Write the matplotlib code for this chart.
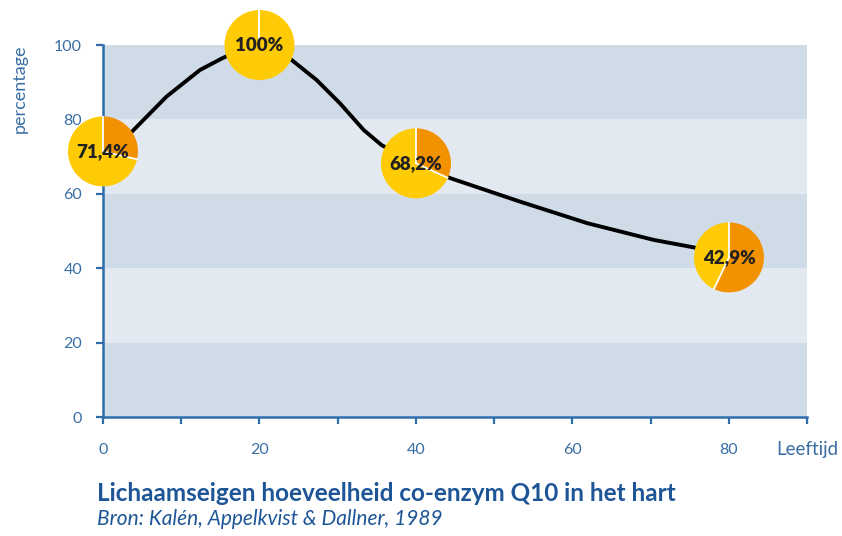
import matplotlib
matplotlib.use("Agg")
import matplotlib.pyplot as plt
import numpy as np
from matplotlib.ticker import MultipleLocator

# -------------------- data --------------------
# curve (age in years, percentage)
curve_age = [0, 3.7, 8.1, 12.4, 15.2, 17.5, 20, 22.0, 24.1, 27.3, 30.3, 33.3, 35.6, 40,
             44.4, 53.3, 61.9, 70.4, 75.5, 80]
curve_pct = [71.4, 76.7, 86.1, 93.3, 96.4, 98.6, 100, 98.6, 96.0, 90.6, 84.3, 77.2, 73.1, 68.2,
             64.2, 57.9, 52.1, 47.6, 45.6, 42.9]

# measured points shown as pie markers
point_age = [0, 20, 40, 80]
point_pct = [71.4, 100.0, 68.2, 42.9]
point_labels = ["71,4%", "100%", "68,2%", "42,9%"]

x_ticks = [0, 20, 40, 60, 80]
y_ticks = [0, 20, 40, 60, 80, 100]

# -------------------- style --------------------
BLUE = "#2f6dab"
TEXT_BLUE = "#3a6ea5"
TITLE_BLUE = "#1d5596"
BAND_DARK = "#cfdbe6"
BAND_LIGHT = "#e2e9f1"
YELLOW = "#ffcb05"
ORANGE = "#f39200"

plt.rcParams["font.family"] = ["Lato", "DejaVu Sans"]

fig = plt.figure(figsize=(8.42, 5.36), dpi=100)
ax = fig.add_axes([0.1223, 0.222, 0.8364, 0.694])

ax.set_xlim(0, 90)
ax.set_ylim(0, 100)

# alternating bands
for i, lo in enumerate(range(0, 100, 20)):
    ax.axhspan(lo, lo + 20, color=BAND_DARK if i % 2 == 0 else BAND_LIGHT, lw=0, zorder=0)

ax.plot(curve_age, curve_pct, color="black", lw=2.8, solid_capstyle="round", zorder=3)

for s in ["top", "right"]:
    ax.spines[s].set_visible(False)
for s in ["left", "bottom"]:
    ax.spines[s].set_color(BLUE)
    ax.spines[s].set_linewidth(1.8)

ax.set_xticks(x_ticks)
ax.xaxis.set_minor_locator(MultipleLocator(10))
ax.set_yticks(y_ticks)
ax.tick_params(axis="x", which="both", direction="out", length=5, width=1.6, color=BLUE,
               labelcolor=TEXT_BLUE, labelsize=11.5, pad=14)
ax.tick_params(axis="y", direction="out", length=5, width=1.6, color=BLUE,
               labelcolor=TEXT_BLUE, labelsize=11.5, pad=10)

fig.text(0.024, 0.835, "percentage", rotation=90, ha="center", va="center",
         color=TEXT_BLUE, fontsize=13)
fig.text(0.922, 0.162, "Leeftijd", ha="left", va="center", color=TEXT_BLUE, fontsize=13.5)

fig.text(0.115, 0.08, "Lichaamseigen hoeveelheid co-enzym Q10 in het hart",
         ha="left", va="center", color=TITLE_BLUE, fontsize=17.5, fontweight="bold")
fig.text(0.115, 0.032, "Bron: Kalén, Appelkvist & Dallner, 1989",
         ha="left", va="center", color=TITLE_BLUE, fontsize=15, fontstyle="italic")

# pie markers
fig.canvas.draw()
to_fig = fig.transFigure.inverted()
r_px = 35
for age, pct, lab in zip(point_age, point_pct, point_labels):
    cx, cy = ax.transData.transform((age, pct))
    (x0, y0) = to_fig.transform((cx - r_px, cy - r_px))
    (x1, y1) = to_fig.transform((cx + r_px, cy + r_px))
    pax = fig.add_axes([x0, y0, x1 - x0, y1 - y0])
    pax.pie([100 - pct, pct], colors=[ORANGE, YELLOW], startangle=90, counterclock=False,
            radius=1.0, wedgeprops=dict(linewidth=0))
    # white separators between the wedges
    for ang in [90, 90 - 3.6 * (100 - pct)]:
        a = np.deg2rad(ang)
        pax.plot([0, 0.99 * np.cos(a)], [0, 0.99 * np.sin(a)], color="white", lw=1.3)
    pax.set_xlim(-1, 1)
    pax.set_ylim(-1, 1)
    pax.axis("off")
    pax.text(0, 0, lab, ha="center", va="center", fontsize=13.5, fontweight="heavy",
             color="#222222")

fig.savefig("out.png", dpi=100)
